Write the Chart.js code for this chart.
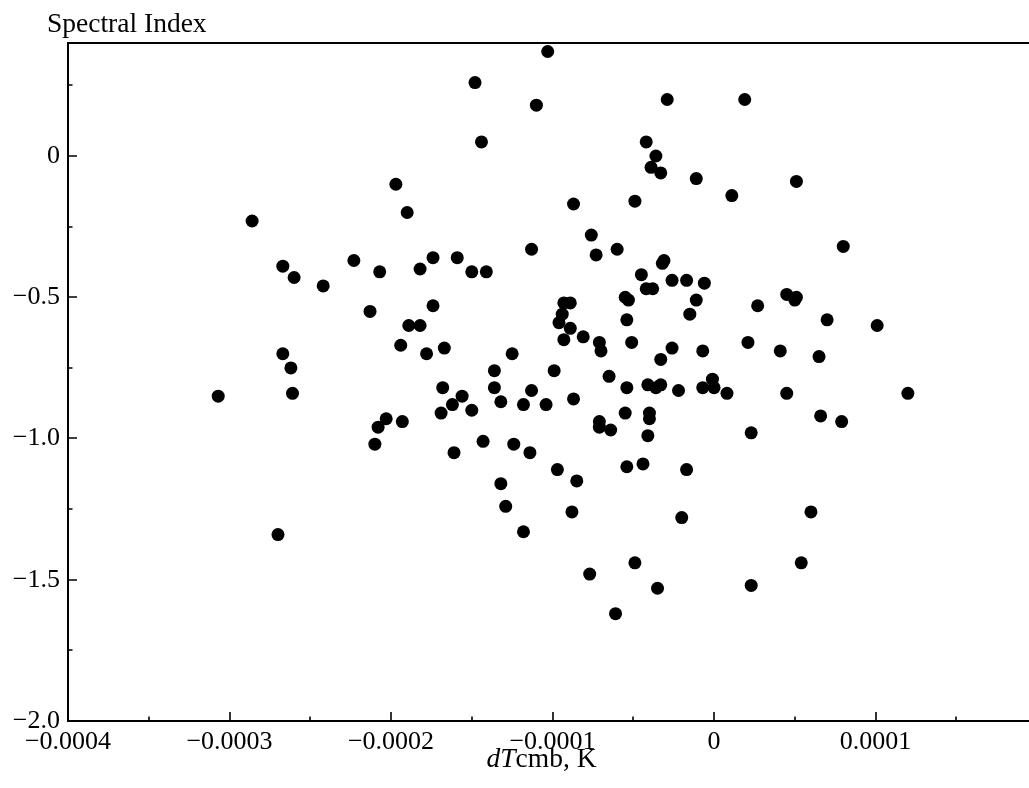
<!DOCTYPE html>
<html>
<head>
<meta charset="utf-8">
<script src="https://cdn.jsdelivr.net/npm/chart.js@4/dist/chart.umd.min.js"></script>
<style>
html,body{margin:0;padding:0;background:#fff;overflow:hidden;}
canvas{display:block;}
</style>
</head>
<body>
<canvas id="c" width="1029" height="788"></canvas>
<script>
// dTcmb values (K)
const dTcmb = [
 -0.000103,-0.000148,-0.000110,-0.000144,-0.000197,-0.000190,-0.000286,-0.000113,-0.000267,-0.000260,
 -0.000242,-0.000223,-0.000207,-0.000182,-0.000174,-0.000159,-0.000150,-0.000141,-0.000213,-0.000174,
 -0.000189,-0.000182,-0.000029,0.000019,-0.000042,-0.000036,-0.000039,-0.000033,-0.000011,0.000051,
 -0.000087,-0.000049,0.000011,-0.000076,-0.000073,-0.000060,0.000080,-0.000031,-0.000032,-0.000045,
 -0.000042,-0.000038,-0.000026,-0.000017,-0.000006,-0.000055,-0.000053,-0.000011,0.000027,0.000045,
 0.000051,0.000050,-0.000054,-0.000015,0.000070,0.000101,-0.000093,-0.000089,-0.000094,-0.000096,
 -0.000089,-0.000081,-0.000093,-0.000071,-0.000070,-0.000051,-0.000026,-0.000033,-0.000007,0.000021,
 0.000041,0.000065,-0.000099,-0.000065,-0.000054,-0.000041,-0.000036,-0.000033,-0.000022,-0.000007,
 -0.000001,0.000000,0.000008,0.000045,0.000120,-0.000104,-0.000087,-0.000055,-0.000040,-0.000040,
 -0.000071,-0.000071,-0.000064,-0.000041,0.000023,0.000066,0.000079,-0.000097,-0.000085,-0.000054,
 -0.000044,-0.000017,-0.000088,-0.000020,0.000060,-0.000049,-0.000077,0.000054,-0.000035,0.000023,
 -0.000061,-0.000194,-0.000178,-0.000167,-0.000267,-0.000262,-0.000307,-0.000261,-0.000125,-0.000136,
 -0.000168,-0.000136,-0.000113,-0.000156,-0.000162,-0.000150,-0.000169,-0.000132,-0.000118,-0.000203,
 -0.000208,-0.000193,-0.000210,-0.000161,-0.000143,-0.000124,-0.000114,-0.000132,-0.000129,-0.000118,
 -0.000270
];
// Spectral index values
const spectralIndex = [
 0.37,0.26,0.18,0.05,-0.10,-0.20,-0.23,-0.33,-0.39,-0.43,
 -0.46,-0.37,-0.41,-0.40,-0.36,-0.36,-0.41,-0.41,-0.55,-0.53,
 -0.60,-0.60,0.20,0.20,0.05,0.00,-0.04,-0.06,-0.08,-0.09,
 -0.17,-0.16,-0.14,-0.28,-0.35,-0.33,-0.32,-0.37,-0.38,-0.42,
 -0.47,-0.47,-0.44,-0.44,-0.45,-0.50,-0.51,-0.51,-0.53,-0.49,
 -0.50,-0.51,-0.58,-0.56,-0.58,-0.60,-0.52,-0.52,-0.56,-0.59,
 -0.61,-0.64,-0.65,-0.66,-0.69,-0.66,-0.68,-0.72,-0.69,-0.66,
 -0.69,-0.71,-0.76,-0.78,-0.82,-0.81,-0.82,-0.81,-0.83,-0.82,
 -0.79,-0.82,-0.84,-0.84,-0.84,-0.88,-0.86,-0.91,-0.91,-0.93,
 -0.94,-0.96,-0.97,-0.99,-0.98,-0.92,-0.94,-1.11,-1.15,-1.10,
 -1.09,-1.11,-1.26,-1.28,-1.26,-1.44,-1.48,-1.44,-1.53,-1.52,
 -1.62,-0.67,-0.70,-0.68,-0.70,-0.75,-0.85,-0.84,-0.70,-0.76,
 -0.82,-0.82,-0.83,-0.85,-0.88,-0.90,-0.91,-0.87,-0.88,-0.93,
 -0.96,-0.94,-1.02,-1.05,-1.01,-1.02,-1.05,-1.16,-1.24,-1.33,
 -1.34
];
const xMajorTicks = [-0.0004,-0.0003,-0.0002,-0.0001,0,0.0001];
const xTickLabels = ['\u22120.0004','\u22120.0003','\u22120.0002','\u22120.0001','0','0.0001'];
const xMinorTicks = [-0.00035,-0.00025,-0.00015,-0.00005,0.00005,0.00015];
const yMajorTicks = [0,-0.5,-1.0,-1.5,-2.0];
const yTickLabels = ['0','\u22120.5','\u22121.0','\u22121.5','\u22122.0'];
const yMinorTicks = [0.25,-0.25,-0.75,-1.25,-1.75];
const yAxisTitle = 'Spectral Index';
const xAxisTitleItalic = 'dT';
const xAxisTitleRest = 'cmb, K';

const FONT = '"Liberation Serif", "Times New Roman", serif';
const points = dTcmb.map((x, i) => ({x: x, y: spectralIndex[i]}));

const decorPlugin = {
  id: 'decor',
  afterDraw(chart) {
    const ctx = chart.ctx;
    const ca = chart.chartArea;
    const xs = chart.scales.x, ys = chart.scales.y;
    ctx.save();
    ctx.strokeStyle = '#000';
    // top spine
    ctx.lineWidth = 2;
    ctx.beginPath();
    ctx.moveTo(ca.left - 1, ca.top);
    ctx.lineTo(ca.right, ca.top);
    ctx.stroke();
    // ticks
    ctx.lineWidth = 1.6;
    ctx.beginPath();
    xMajorTicks.forEach(v => { const p = Math.round(xs.getPixelForValue(v)); ctx.moveTo(p, ca.bottom); ctx.lineTo(p, ca.bottom - 9); });
    xMinorTicks.forEach(v => { const p = Math.round(xs.getPixelForValue(v)); ctx.moveTo(p, ca.bottom); ctx.lineTo(p, ca.bottom - 4.5); });
    yMajorTicks.forEach(v => { const p = Math.round(ys.getPixelForValue(v)); ctx.moveTo(ca.left, p); ctx.lineTo(ca.left + 9, p); });
    yMinorTicks.forEach(v => { const p = Math.round(ys.getPixelForValue(v)); ctx.moveTo(ca.left, p); ctx.lineTo(ca.left + 4.5, p); });
    ctx.stroke();
    // titles
    ctx.fillStyle = '#000';
    ctx.textBaseline = 'alphabetic';
    ctx.textAlign = 'left';
    ctx.font = '27.5px ' + FONT;
    ctx.fillText(yAxisTitle, 47, 32);
    ctx.font = 'italic 27.5px ' + FONT;
    const w1 = ctx.measureText(xAxisTitleItalic).width;
    ctx.font = '27.5px ' + FONT;
    const w2 = ctx.measureText(xAxisTitleRest).width;
    const x0 = 541.5 - (w1 + w2) / 2;
    ctx.font = 'italic 27.5px ' + FONT;
    ctx.fillText(xAxisTitleItalic, x0, 767);
    ctx.font = '27.5px ' + FONT;
    ctx.fillText(xAxisTitleRest, x0 + w1, 767);
    ctx.restore();
  }
};

new Chart(document.getElementById('c'), {
  type: 'scatter',
  data: {
    datasets: [{
      data: points,
      backgroundColor: '#000',
      borderColor: '#000',
      borderWidth: 0,
      pointRadius: 6.5,
      pointHoverRadius: 6.5
    }]
  },
  options: {
    responsive: false,
    animation: false,
    devicePixelRatio: 1,
    layout: { autoPadding: false, padding: { top: 43, left: 0, right: 0, bottom: 0 } },
    plugins: { legend: { display: false }, tooltip: { enabled: false } },
    scales: {
      x: {
        type: 'linear',
        min: -0.0004,
        max: 0.000195,
        afterBuildTicks: s => { s.ticks = xMajorTicks.map(v => ({value: v})); },
        afterFit: s => { s.height = 67; s.paddingLeft = 0; s.paddingRight = 0; },
        grid: { display: false, drawTicks: false },
        border: { display: true, color: '#000', width: 2 },
        ticks: {
          padding: 6,
          color: '#000',
          font: { family: FONT, size: 26 },
          maxRotation: 0,
          autoSkip: false,
          callback: (v, i) => xTickLabels[i]
        }
      },
      y: {
        type: 'linear',
        min: -2.0,
        max: 0.4,
        afterBuildTicks: s => { s.ticks = yMajorTicks.map(v => ({value: v})); },
        afterFit: s => { s.width = 68; s.paddingTop = 0; s.paddingBottom = 0; },
        grid: { display: false, drawTicks: false },
        border: { display: true, color: '#000', width: 2 },
        ticks: {
          padding: 8,
          color: '#000',
          font: { family: FONT, size: 26 },
          autoSkip: false,
          callback: (v, i) => yTickLabels[i]
        }
      }
    }
  },
  plugins: [decorPlugin]
});
</script>
</body>
</html>
